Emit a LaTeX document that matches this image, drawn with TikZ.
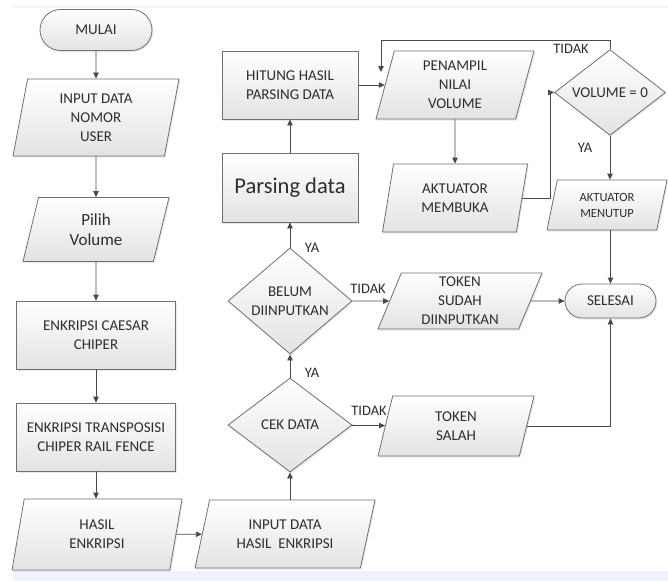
\documentclass[tikz,border=0pt]{standalone}
\usepackage{fontspec}
\setmainfont{Carlito}
\usetikzlibrary{shapes.geometric,shapes.misc,arrows.meta,shadows}
\definecolor{txt}{HTML}{2E2E2E}
\definecolor{bdr}{HTML}{707070}
\definecolor{ln}{HTML}{4A4A4A}
\definecolor{band}{HTML}{EEF3FB}
\begin{document}
\begin{tikzpicture}[x=1pt,y=-1pt,
  base/.style={draw=bdr, line width=0.8pt, top color=white, bottom color=black!11,
    text=txt, font=\fontsize{15}{19}\selectfont, align=center, inner sep=0pt,
    drop shadow={shadow xshift=1.2pt, shadow yshift=-1.5pt, opacity=0.18}},
  proc/.style={base, rectangle},
  term/.style={base, rounded rectangle},
  dec/.style={base, diamond},
  io/.style={base, trapezium, trapezium stretches body,
    trapezium left angle=#1, trapezium right angle={180-#1}},
  arr/.style={draw=ln, line width=0.8pt, -{Triangle[length=6pt,width=5.5pt]}},
  lbl/.style={text=txt, font=\fontsize{14.5}{16}\selectfont, inner sep=0pt}
]
\useasboundingbox (0,0) rectangle (668,581);
\fill[white] (0,0) rectangle (668,581);
\fill[black!3] (13,5) rectangle (668,8);
\fill[band] (13,571) rectangle (668,581);

% left column
\node[term, minimum width=112pt, minimum height=41pt] (mulai) at (96,30) {MULAI};
\node[io=73, minimum width=166pt, minimum height=77pt] (input) at (96,117.5) {INPUT DATA\\NOMOR\\USER};
\node[io=64, minimum width=146pt, minimum height=64pt, font=\fontsize{17}{20}\selectfont] (pilih) at (96,229.5) {Pilih\\Volume};
\node[proc, minimum width=159pt, minimum height=68pt] (caesar) at (96,335) {ENKRIPSI CAESAR\\CHIPER};
\node[proc, minimum width=159pt, minimum height=68pt] (trans) at (96,437) {ENKRIPSI TRANSPOSISI\\CHIPER RAIL FENCE};
\node[io=67, minimum width=170pt, minimum height=71pt] (hasil) at (97,534.5) {HASIL\\ENKRIPSI};

% middle column
\node[io=63, minimum width=180pt, minimum height=68pt] (inhasil) at (285,534) {INPUT DATA\\HASIL\ \ ENKRIPSI};
\node[dec, minimum width=124pt, minimum height=94pt] (cek) at (290,425) {CEK DATA};
\node[dec, minimum width=124pt, minimum height=93pt] (belum) at (290,301) {BELUM\\DIINPUTKAN};
\node[proc, minimum width=136pt, minimum height=69pt, font=\fontsize{22.5}{26}\selectfont] (parsing) at (290,187.5) {Parsing data};
\node[proc, minimum width=136pt, minimum height=68pt] (hitung) at (290,85) {HITUNG HASIL\\PARSING DATA};

% right part
\node[io=69, minimum width=158pt, minimum height=68pt] (penampil) at (455,85) {PENAMPIL\\NILAI\\VOLUME};
\node[io=69, minimum width=145pt, minimum height=68pt] (membuka) at (455,198) {AKTUATOR\\MEMBUKA};
\node[dec, minimum width=111pt, minimum height=81pt] (vol) at (610,92.5) {VOLUME = 0};
\node[io=67, minimum width=120pt, minimum height=50pt, font=\fontsize{12.5}{16}\selectfont] (menutup) at (607,205) {AKTUATOR\\MENUTUP};
\node[term, minimum width=91pt, minimum height=34pt] (selesai) at (610.5,301) {SELESAI};
\node[io=64, minimum width=164pt, minimum height=56pt] (sudah) at (460,301) {TOKEN\\SUDAH\\DIINPUTKAN};
\node[io=63, minimum width=156pt, minimum height=60pt] (salah) at (456,426) {TOKEN\\SALAH};

\coordinate (fbtop) at (381,40);
\coordinate (fb) at (381,72);

% connectors
\draw[arr] (mulai) -- (input);
\draw[arr] (input) -- (pilih);
\draw[arr] (pilih) -- (caesar);
\draw[arr] (caesar) -- (trans);
\draw[arr] (trans.south) -- (trans.south |- hasil.top side);
\draw[arr] (hasil) -- (inhasil);
\draw[arr] (cek |- inhasil.top side) -- (cek.south);
\draw[arr] (cek) -- (belum);
\draw[arr] (belum) -- (parsing);
\draw[arr] (parsing) -- (hitung);
\draw[arr] (hitung) -- (penampil);
\draw[arr] (penampil) -- (membuka);
\draw[arr] (membuka.right side) -- ++(28,0) |- (vol);
\draw[arr] (vol.south) -- (vol.south |- menutup.top side);
\draw[arr] (selesai.north |- menutup.bottom side) -- (selesai.north);
\draw[arr] (vol.north) |- (fbtop) -- (fb);
\draw[arr] (belum) -- (sudah);
\draw[arr] (sudah) -- (selesai);
\draw[arr] (cek) -- (salah);
\draw[arr] (salah) -| (selesai);

% labels
\node[lbl] (ya1) at (312,373) {YA};
\node[lbl] (ya2) at (312,248) {YA};
\node[lbl] (ya3) at (585,148) {YA};
\node[lbl] (td1) at (368,289) {TIDAK};
\node[lbl] (td2) at (369,411) {TIDAK};
\node[lbl] (td3) at (571,49) {TIDAK};
\end{tikzpicture}
\end{document}
